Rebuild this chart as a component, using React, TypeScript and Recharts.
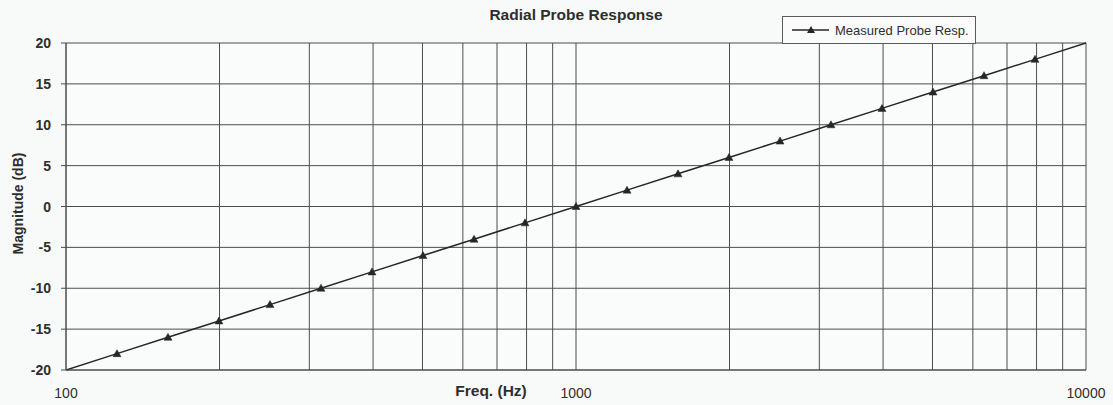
import React from 'react';
import { LineChart, Line, XAxis, YAxis, CartesianGrid, Legend } from 'recharts';

const frequencies = [100, 125.9, 158.5, 199.5, 251.2, 316.2, 398.1, 501.2, 631.0, 794.3, 1000, 1259, 1585, 1995, 2512, 3162, 3981, 5012, 6310, 7943, 10000];
const magnitudes = [-20, -18, -16, -14, -12, -10, -8, -6, -4, -2, 0, 2, 4, 6, 8, 10, 12, 14, 16, 18, 20];
const markerShown = [false, true, true, true, true, true, true, true, true, true, true, true, true, true, true, true, true, true, true, true, false];
const xGridTicks = [100, 200, 300, 400, 500, 600, 700, 800, 900, 1000, 2000, 3000, 4000, 5000, 6000, 7000, 8000, 9000, 10000];
const xLabelTicks = [100, 1000, 10000];
const yTicks = [-20, -15, -10, -5, 0, 5, 10, 15, 20];
const seriesName = 'Measured Probe Resp.';

const data = frequencies.map((f, i) => ({ freq: f, mag: magnitudes[i], marker: markerShown[i] }));

const FONT = '"Liberation Sans", Arial, Helvetica, sans-serif';
const TEXT = '#2e2e2e';
const GRID = '#4d4d4d';
const LINE = '#262626';

const Triangle = (props: any) => {
  const { cx, cy, payload } = props;
  if (!payload || !payload.marker || cx == null || cy == null) return <g key={props.key} />;
  const s = 4;
  return (
    <path
      key={props.key}
      d={`M${cx},${cy - s} L${cx + s},${cy + s * 0.75} L${cx - s},${cy + s * 0.75} Z`}
      fill={LINE}
      stroke={LINE}
      strokeWidth={0.5}
    />
  );
};

const XTick = (props: any) => {
  const { x, y, payload } = props;
  if (!xLabelTicks.includes(payload.value)) return <g />;
  return (
    <text x={x} y={y + 20} textAnchor="middle" fontFamily={FONT} fontSize={14} fill={TEXT}>
      {payload.value}
    </text>
  );
};

const YTick = (props: any) => {
  const { x, y, payload } = props;
  return (
    <text x={x - 8} y={y} dy={5} textAnchor="end" fontFamily={FONT} fontSize={14} fontWeight="bold" fill={TEXT}>
      {payload.value}
    </text>
  );
};

const LegendBox = (props: any) => {
  const { payload } = props;
  const name = payload && payload[0] ? payload[0].value : seriesName;
  return (
    <div
      style={{
        width: 192,
        height: 26,
        border: '1px solid #5a5a5a',
        background: '#fbfbfb',
        display: 'flex',
        alignItems: 'center',
        fontFamily: FONT,
        fontSize: 13,
        color: TEXT,
        boxSizing: 'content-box',
      }}
    >
      <svg width={50} height={26} style={{ display: 'block' }}>
        <line x1={9} y1={13} x2={46} y2={13} stroke={LINE} strokeWidth={1.3} />
        <path d="M28,9 L32,16 L24,16 Z" fill={LINE} />
      </svg>
      <span style={{ marginLeft: 2, whiteSpace: 'nowrap' }}>{name}</span>
    </div>
  );
};

export default function App() {
  return (
    <div style={{ position: 'absolute', left: 0, top: 0, width: 1113, height: 405, background: '#f8f9f9' }}>
      <div
        style={{
          position: 'absolute',
          left: 66,
          top: 6,
          width: 1020,
          textAlign: 'center',
          fontFamily: FONT,
          fontWeight: 'bold',
          fontSize: 15.5,
          color: TEXT,
          lineHeight: '18px',
        }}
      >
        Radial Probe Response
      </div>
      <LineChart width={1113} height={405} data={data} margin={{ top: 43, right: 27, bottom: 0, left: 6 }}>
        <CartesianGrid stroke={GRID} strokeWidth={1} fill="#fafbfb" />
        <XAxis
          dataKey="freq"
          type="number"
          scale="log"
          domain={[100, 10000]}
          ticks={xGridTicks}
          interval={0}
          tick={<XTick />}
          tickLine={false}
          axisLine={{ stroke: GRID }}
          height={35}
          allowDataOverflow
          label={{
            content: (p: any) => {
              const vb = p.viewBox || { x: 66, y: 370, width: 1020 };
              return (
                <text
                  x={vb.x + vb.width / 2 - 85}
                  y={vb.y + 26}
                  textAnchor="middle"
                  fontFamily={FONT}
                  fontSize={15.5}
                  fontWeight="bold"
                  fill={TEXT}
                >
                  Freq. (Hz)
                </text>
              );
            },
          }}
        />
        <YAxis
          type="number"
          domain={[-20, 20]}
          ticks={yTicks}
          interval={0}
          width={60}
          tick={<YTick />}
          tickSize={5}
          tickLine={{ stroke: GRID }}
          axisLine={{ stroke: GRID }}
          label={{
            content: (p: any) => {
              const vb = p.viewBox || { x: 6, y: 43, width: 60, height: 327 };
              const cx = vb.x + 12;
              const cy = vb.y + vb.height / 2 - 3;
              return (
                <text
                  x={cx}
                  y={cy}
                  transform={`rotate(-90, ${cx}, ${cy})`}
                  textAnchor="middle"
                  dominantBaseline="central"
                  fontFamily={FONT}
                  fontSize={14}
                  fontWeight="bold"
                  fill={TEXT}
                >
                  Magnitude (dB)
                </text>
              );
            },
          }}
        />
        <Legend
          layout="horizontal"
          verticalAlign="middle"
          align="center"
          content={<LegendBox />}
          wrapperStyle={{ position: 'absolute', left: 782, top: 16, width: 'auto' }}
        />
        <Line
          type="linear"
          dataKey="mag"
          name={seriesName}
          stroke={LINE}
          strokeWidth={1.5}
          dot={<Triangle />}
          activeDot={false}
          isAnimationActive={false}
        />
      </LineChart>
    </div>
  );
}
